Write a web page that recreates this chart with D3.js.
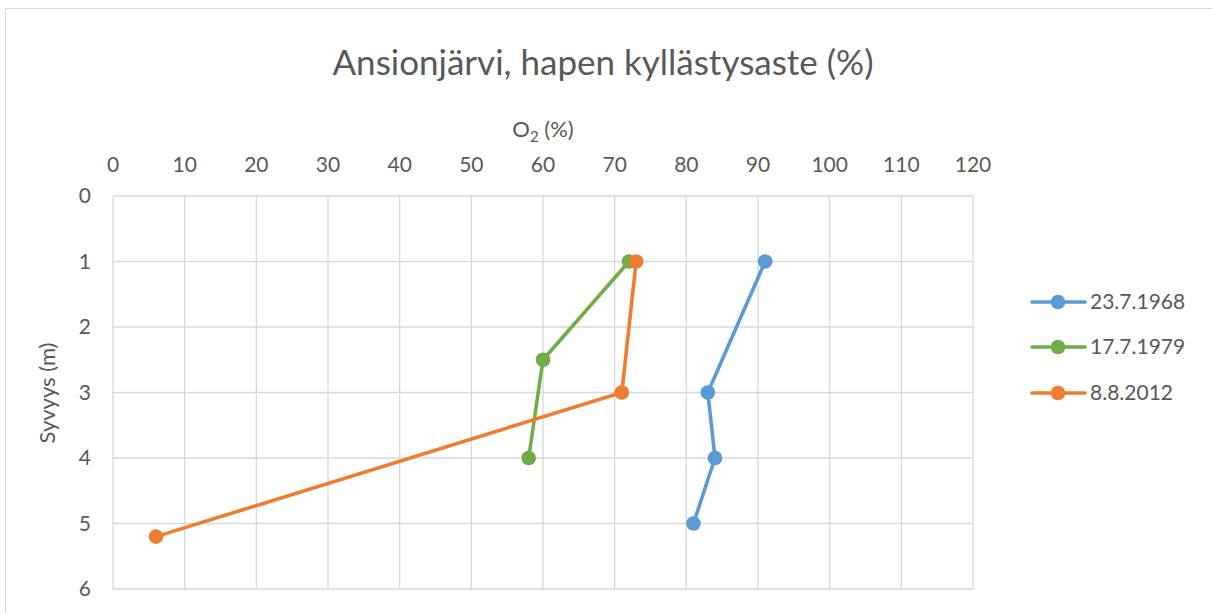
<!DOCTYPE html>
<html><head><meta charset="utf-8">
<script src="https://cdn.jsdelivr.net/npm/d3@7"></script>
<style>body{margin:0;background:#fff;} text{font-family:Lato, "Open Sans", sans-serif;fill:#595959;}</style>
</head><body>
<svg id="c" width="1212" height="613"></svg>
<script>
const seriesNames = ["23.7.1968", "17.7.1979", "8.8.2012"];
const colors = ["#5b9bd5", "#70ad47", "#ed7d31"];
const o2_1968 = [91, 83, 84, 81];
const depth_1968 = [1, 3, 4, 5];
const o2_1979 = [72, 60, 58];
const depth_1979 = [1, 2.5, 4];
const o2_2012 = [73, 71, 6];
const depth_2012 = [1, 3, 5.2];
const xTicks = [0,10,20,30,40,50,60,70,80,90,100,110,120];
const yTicks = [0,1,2,3,4,5,6];

const svg = d3.select("#c");
svg.append("rect").attr("x",5.5).attr("y",8.5).attr("width",1212).attr("height",620)
  .attr("fill","none").attr("stroke","#d9d9d9");

const x = d3.scaleLinear().domain([0,120]).range([113,973]);
const y = d3.scaleLinear().domain([0,6]).range([196,589]);

const g = svg.append("g");
g.selectAll(".vg").data(xTicks).join("line")
  .attr("x1",d=>x(d)).attr("x2",d=>x(d)).attr("y1",y(0)).attr("y2",y(6))
  .attr("stroke","#d9d9d9").attr("stroke-width",1.3);
g.selectAll(".hg").data(yTicks).join("line")
  .attr("y1",d=>y(d)).attr("y2",d=>y(d)).attr("x1",x(0)).attr("x2",x(120))
  .attr("stroke","#d9d9d9").attr("stroke-width",1.3);

g.selectAll(".xt").data(xTicks).join("text")
  .attr("x",d=>x(d)).attr("y",172).attr("text-anchor","middle")
  .attr("font-size",21).text(d=>d);
g.selectAll(".yt").data(yTicks).join("text")
  .attr("x",91).attr("y",d=>y(d)+7).attr("text-anchor","end")
  .attr("font-size",21).text(d=>d);

svg.append("text").attr("x",603).attr("y",75).attr("text-anchor","middle")
  .attr("font-size",35).text("Ansionjärvi, hapen kyllästysaste (%)");

const xt = svg.append("text").attr("x",543).attr("y",137).attr("text-anchor","middle").attr("font-size",22);
xt.append("tspan").text("O");
xt.append("tspan").attr("font-size",15).attr("dy",5).text("2");
xt.append("tspan").attr("dy",-5).text(" (%)");

svg.append("text").attr("transform","translate(55,393) rotate(-90)").attr("text-anchor","middle")
  .attr("font-size",22).text("Syvyys (m)");

const series = [
  {o2:o2_1968, d:depth_1968},
  {o2:o2_1979, d:depth_1979},
  {o2:o2_2012, d:depth_2012}
];
const line = d3.line().x(p=>x(p[0])).y(p=>y(p[1]));
series.forEach((s,i)=>{
  const pts = s.o2.map((v,j)=>[v,s.d[j]]);
  svg.append("path").attr("d",line(pts)).attr("fill","none")
    .attr("stroke",colors[i]).attr("stroke-width",3.6).attr("stroke-linejoin","round").attr("stroke-linecap","round");
  svg.selectAll(".m"+i).data(pts).join("circle")
    .attr("cx",p=>x(p[0])).attr("cy",p=>y(p[1])).attr("r",7.3).attr("fill",colors[i]);
});

const ly = [302, 347, 393];
seriesNames.forEach((n,i)=>{
  svg.append("line").attr("x1",1032).attr("x2",1085).attr("y1",ly[i]).attr("y2",ly[i])
    .attr("stroke",colors[i]).attr("stroke-width",3.6).attr("stroke-linecap","round");
  svg.append("circle").attr("cx",1058).attr("cy",ly[i]).attr("r",7.3).attr("fill",colors[i]);
  svg.append("text").attr("x",1090).attr("y",ly[i]+7).attr("font-size",21).text(n);
});
</script>
</body></html>
